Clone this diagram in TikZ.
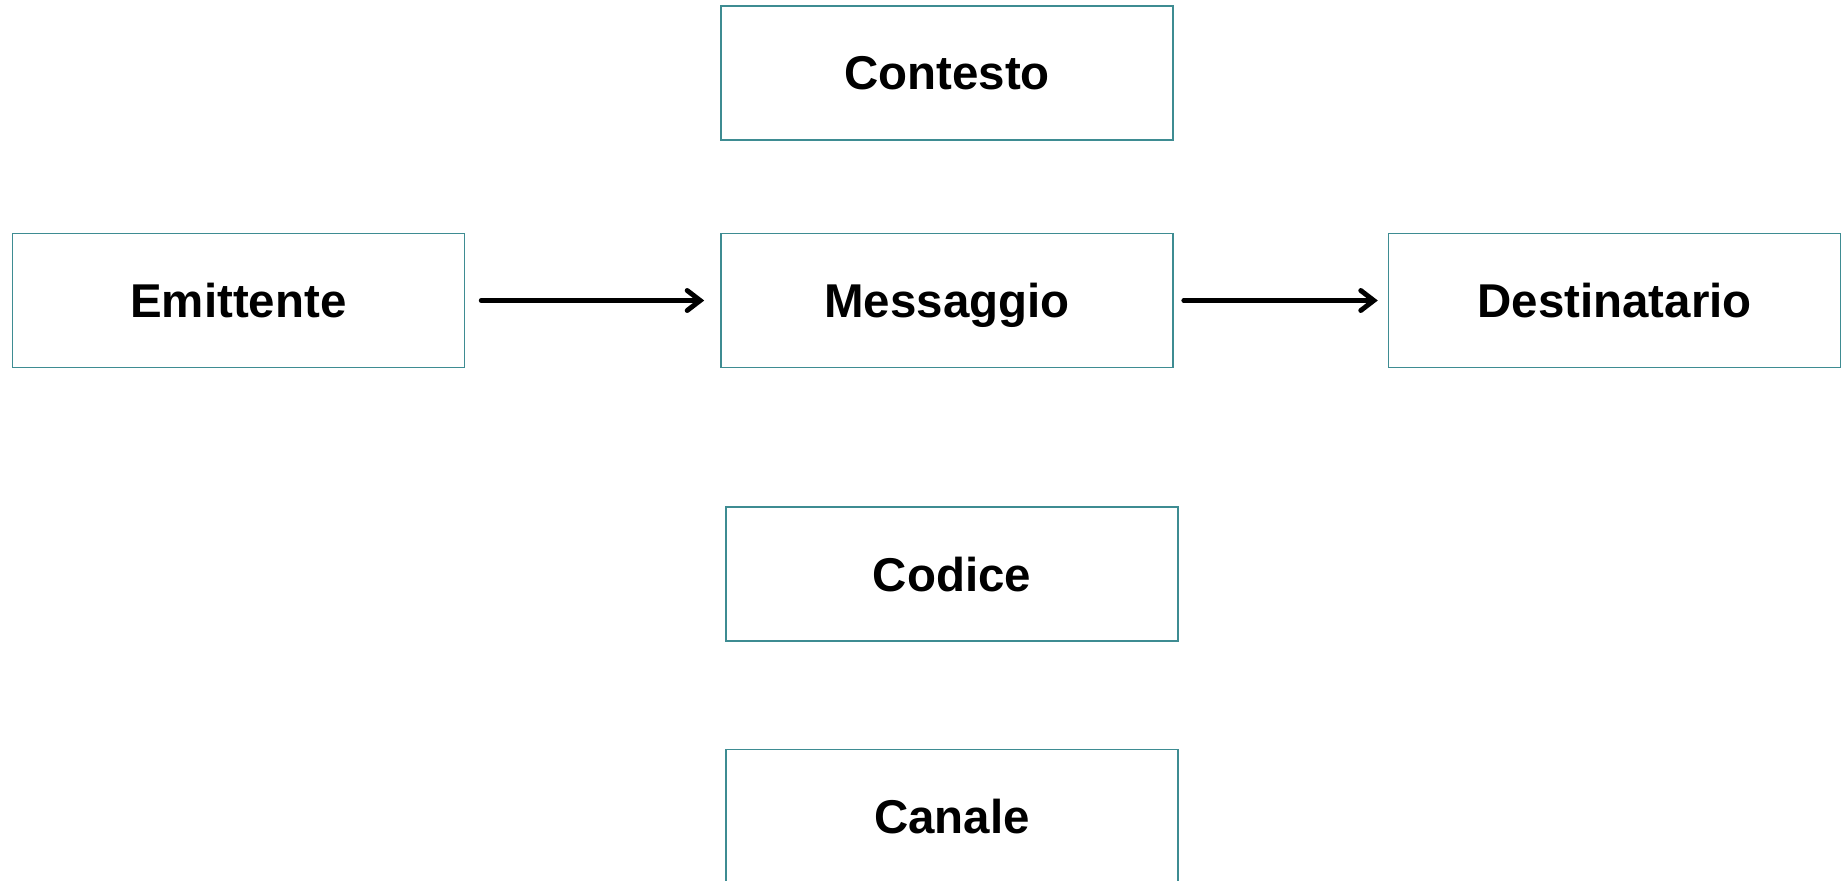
\documentclass[tikz,border=0pt]{standalone}
\usepackage{fontspec}
\setmainfont{Liberation Sans}
\usepackage{tikz}
\usetikzlibrary{arrows.meta}
\usetikzlibrary{positioning}

\definecolor{boxteal}{RGB}{62,140,146}

\begin{document}
\begin{tikzpicture}[>={Straight Barb[length=0.26cm,width=0.4cm,line cap=round]},
			box node/.style={rectangle,draw=boxteal,line width=0.9pt,
				minimum width=9.04cm,minimum height=2.68cm,
				font=\fontsize{27}{32}\selectfont\bfseries,
				text height=19.4pt,text depth=0pt},
			flow/.style={->,line width=2.8pt,line cap=round}]
			
			\useasboundingbox (0,0) rectangle (36.9,-17.6);
			
			\node[box node] (mess) at (18.94,-6.01) {Messaggio};
			\node[box node] (cont) [above=1.84cm of mess] {Contesto};
			\node[box node] (emit) [left=5.1cm of mess] {Emittente};
			\node[box node] (dest) [right=4.28cm of mess] {Destinatario};
			\node[box node] (code) [below=2.76cm of mess,xshift=0.1cm] {Codice};
			\node[box node] (chan) [below=2.14cm of code] {Canale};
			
			\draw[flow,shorten <=0.32cm,shorten >=0.32cm] (emit) -- (mess);
			\draw[flow,shorten <=0.2cm,shorten >=0.2cm] (mess) -- (dest);
		\end{tikzpicture}
\end{document}
